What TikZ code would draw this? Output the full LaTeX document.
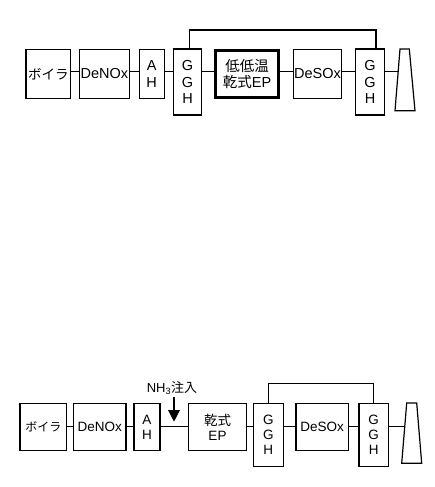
\documentclass[tikz,border=0pt]{standalone}
\usepackage{fontspec}
\setmainfont{Liberation Sans}
\newfontfamily\jpfont{Noto Sans CJK JP}
\usetikzlibrary{arrows.meta}

\newcommand*{\upperrow}{71.7}
\newcommand*{\lowerrow}{426.7}

\begin{document}
\begin{tikzpicture}
[
	x=1pt, y=-1pt, line width=1.2pt,
	unit/.style={draw,inner sep=0pt,align=center,font={\fontsize{14.5}{16.7}\selectfont}},
	lowunit/.style={unit,font={\fontsize{13.5}{15}\selectfont}},
	inject/.style={-{Triangle[width=11.7pt,length=11.7pt]}}
]
	\useasboundingbox (0,0) rectangle (435,487);

	% upper flow
	\node[unit,minimum width=44.7pt,minimum height=49.4pt] at (48.4,74) (boiler1) {\fontsize{13.5}{15}\selectfont\jpfont ボイラ};
	\node[unit,minimum width=50pt,minimum height=49.4pt] at (104.3,74) (denox1) {DeNOx};
	\node[unit,minimum width=25pt,minimum height=49.4pt] at (151.7,74) (ah1) {A\\H};
	\node[unit,minimum width=28.4pt,minimum height=66pt] at (187.5,82) (ggh1a) {G\\G\\H};
	\node[unit,line width=3.2pt,minimum width=63pt,minimum height=47.5pt] at (247,74) (ep1) {{\jpfont 低低温}\\{\jpfont 乾式}EP};
	\node[unit,minimum width=48.4pt,minimum height=49.4pt] at (317.5,74) (desox1) {DeSOx};
	\node[unit,minimum width=28.6pt,minimum height=66pt] at (370,82) (ggh1b) {G\\G\\H};
	\draw (395,110.7) -- (400,49) -- (409.3,49) -- (415,110.7) -- cycle;
	\coordinate (stack1) at (398.2,\upperrow);
	\coordinate (line1) at (0,\upperrow);

	\foreach \a/\b in {boiler1/denox1,denox1/ah1,ah1/ggh1a,ggh1a/ep1,ep1/desox1,desox1/ggh1b}
		\draw (\a.east |- line1) -- (\b.west |- line1);
	\draw (ggh1b.east |- line1) -- (stack1);
	\draw ([xshift=1.8pt]ggh1a.north) -- ++(0,-18.3) -| ([xshift=6pt]ggh1b.north);

	% lower flow
	\node[lowunit,minimum width=46.7pt,minimum height=47.4pt] at (43.3,427) (boiler2) {\fontsize{12}{14}\selectfont\jpfont ボイラ};
	\node[lowunit,minimum width=52.7pt,minimum height=47.4pt] at (99.7,427) (denox2) {DeNOx};
	\node[lowunit,minimum width=26pt,minimum height=47.4pt] at (147,427) (ah2) {A\\H};
	\node[lowunit,minimum width=58.4pt,minimum height=47.4pt] at (217.5,427) (ep2) {{\jpfont 乾式}\\EP};
	\node[lowunit,minimum width=30pt,minimum height=63.4pt] at (268.3,435) (ggh2a) {G\\G\\H};
	\node[lowunit,minimum width=52.3pt,minimum height=47.4pt] at (322.2,427) (desox2) {DeSOx};
	\node[lowunit,minimum width=29.3pt,minimum height=63.4pt] at (373.7,435) (ggh2b) {G\\G\\H};
	\draw (401.7,463.3) -- (406.7,403) -- (416.7,403) -- (421.7,463.3) -- cycle;
	\coordinate (stack2) at (404.7,\lowerrow);
	\coordinate (line2) at (0,\lowerrow);

	\foreach \a/\b in {boiler2/denox2,denox2/ah2,ah2/ep2,ep2/ggh2a,ggh2a/desox2,desox2/ggh2b}
		\draw (\a.east |- line2) -- (\b.west |- line2);
	\draw (ggh2b.east |- line2) -- (stack2);
	\draw (ggh2a.north) -- ++(0,-19) -| (ggh2b.north);

	% ammonia injection
	\node[font={\fontsize{13}{15}\selectfont},inner sep=1pt] at (172,388.3) (nh3) {NH\textsubscript{3}{\jpfont 注入}};
	\coordinate (inj) at (174,421.7);
	\draw[inject] (inj |- nh3.south) -- (inj);

\end{tikzpicture}
\end{document}
